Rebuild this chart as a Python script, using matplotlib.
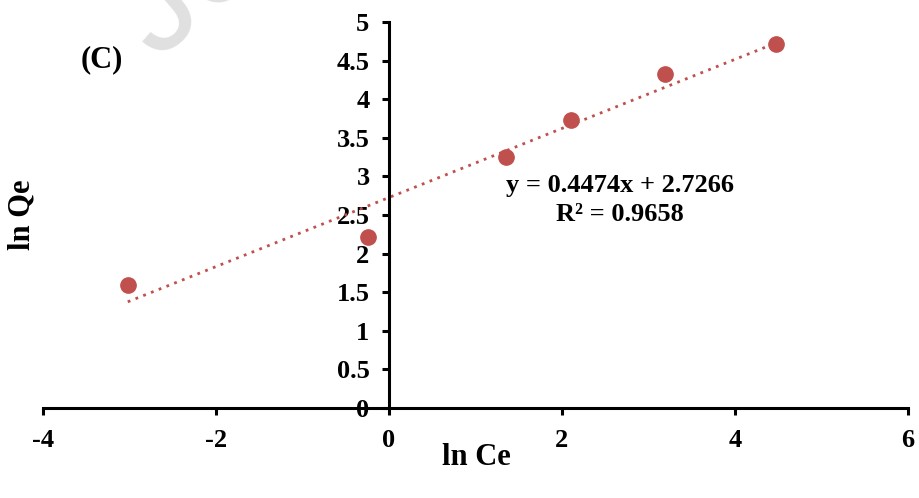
import numpy as np
import matplotlib
matplotlib.use('Agg')
import matplotlib.pyplot as plt

# ln Ce / ln Qe data
ln_ce = [-3.02, -0.24, 1.35, 2.10, 3.19, 4.47]
ln_qe = [1.59, 2.21, 3.25, 3.73, 4.33, 4.72]
slope, intercept = 0.4474, 2.7266
x_ticks = [-4, -2, 0, 2, 4, 6]
y_ticks = [0, 0.5, 1, 1.5, 2, 2.5, 3, 3.5, 4, 4.5, 5]

plt.rcParams['font.family'] = ['Liberation Serif', 'DejaVu Serif']
plt.rcParams['font.weight'] = 'bold'

red = '#C0504D'

fig = plt.figure(figsize=(9.19, 4.98), dpi=100)
ax = fig.add_axes([43 / 919, 90 / 498, 865 / 919, 386 / 498])

# faint watermark (cut off at the top, like the source page)
fig.text(156 / 919, 1 - 60 / 498, 'Jo', ha='left', va='baseline', fontsize=100, color='#e0e0e0',
         rotation=40, rotation_mode='anchor', fontfamily='Liberation Sans',
         fontweight='normal', zorder=-1)

# trendline
xt = np.array([min(ln_ce), max(ln_ce)])
ax.plot(xt, slope * xt + intercept, color=red, linestyle=(0, (1, 2)), linewidth=2)
ax.plot(ln_ce, ln_qe, 'o', color=red, markersize=11, zorder=3)

ax.set_xlim(-4, 6)
ax.set_ylim(0, 5)
ax.set_xticks(x_ticks)
ax.set_xticklabels([str(v) for v in x_ticks])
ax.set_yticks(y_ticks)
ax.set_yticklabels([f'{v:g}' for v in y_ticks])
ax.patch.set_alpha(0)

ax.spines['top'].set_visible(False)
ax.spines['right'].set_visible(False)
ax.spines['left'].set_position(('data', 0))
ax.spines['bottom'].set_position(('data', 0))
ax.spines['left'].set_linewidth(2.2)
ax.spines['bottom'].set_linewidth(2.2)
ax.tick_params(axis='both', direction='out', length=5, width=2.2, labelsize=19)
ax.tick_params(axis='x', pad=10)
ax.tick_params(axis='y', pad=9)

ax.text(2.67, 2.88, 'y = 0.4474x + 2.7266', ha='center', va='center', fontsize=19, fontweight='bold')
ax.text(2.67, 2.51, 'R² = 0.9658', ha='center', va='center', fontsize=19, fontweight='bold')

fig.text(102 / 919, 1 - 60 / 498, '(C)', ha='center', va='center', fontsize=22, fontweight='bold')
fig.text(476 / 919, 1 - 457 / 498, 'ln Ce', ha='center', va='center', fontsize=22, fontweight='bold')
fig.text(22 / 919, 1 - 215 / 498, 'ln Qe', ha='center', va='center', fontsize=22, fontweight='bold', rotation=90)

fig.savefig('out.png', dpi=100)
